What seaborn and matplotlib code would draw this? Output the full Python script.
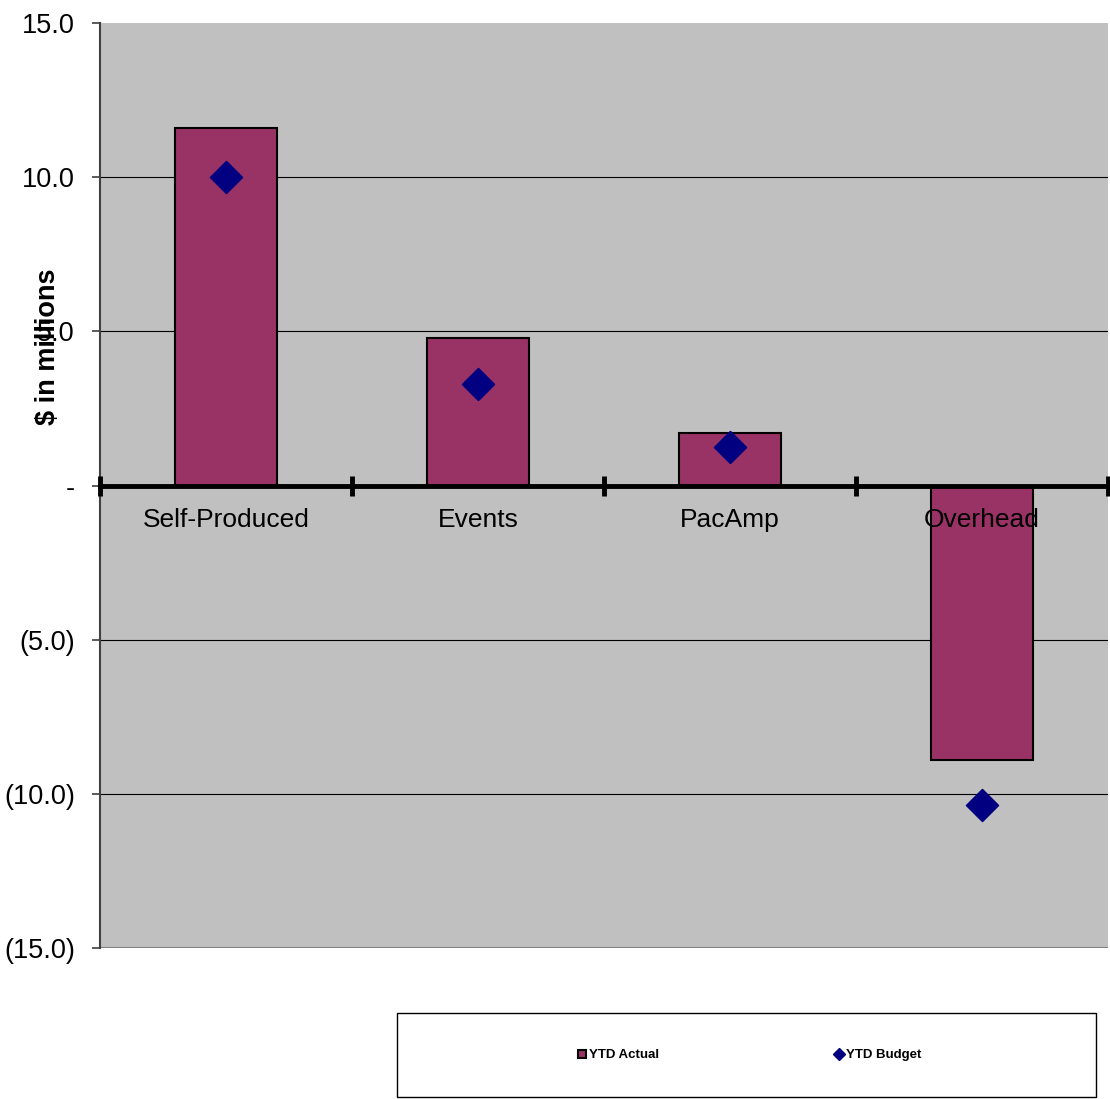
import matplotlib
matplotlib.use("Agg")
import matplotlib.pyplot as plt
from matplotlib.lines import Line2D
from matplotlib.patches import Rectangle
import seaborn as sns
import pandas as pd

# Year-to-date results by business line, $ millions
categories = ["Self-Produced", "Events", "PacAmp", "Overhead"]
ytd_actual = [11.6, 4.8, 1.7, -8.9]
ytd_budget = [10.0, 3.3, 1.25, -10.35]
y_ticks = [15, 10, 5, 0, -5, -10, -15]
y_tick_labels = ["15.0", "10.0", "5.0", "-", "(5.0)", "(10.0)", "(15.0)"]

sns.set_style("white")
plt.rcParams["font.family"] = ["Liberation Sans", "DejaVu Sans"]
plt.rcParams["text.color"] = "black"
plt.rcParams["axes.labelcolor"] = "black"
plt.rcParams["xtick.color"] = "black"
plt.rcParams["ytick.color"] = "black"

df = pd.DataFrame({"cat": categories, "actual": ytd_actual, "budget": ytd_budget})

fig = plt.figure(figsize=(11.10, 10.99), dpi=100)
ax = fig.add_axes([100 / 1110, 1 - 948 / 1099, 1008 / 1110, 925 / 1099])
ax.set_facecolor("#C0C0C0")

bar_color = "#993366"
sns.barplot(data=df, x="cat", y="actual", color=bar_color, width=0.405,
            edgecolor="black", linewidth=1.5, saturation=1, ax=ax, zorder=2)
sns.scatterplot(data=df, x="cat", y="budget", marker="D", s=260,
                color="#000080", edgecolor="#000080", ax=ax, zorder=3)

ax.set_xlim(-0.5, 3.5)
ax.set_ylim(-15, 15)

# Horizontal gridlines
for yv in [10, 5, -5, -10]:
    ax.axhline(yv, color="black", linewidth=0.8, zorder=1)
ax.axhline(-15, color="#808080", linewidth=1.5, zorder=1)

# Category axis sits on the zero line, drawn over the bars
for s in ["top", "right"]:
    ax.spines[s].set_visible(False)
ax.spines["bottom"].set_position(("data", 0))
ax.spines["bottom"].set_linewidth(3.5)
ax.spines["bottom"].set_color("black")
ax.spines["bottom"].set_zorder(6)
ax.spines["left"].set_color("#404040")
ax.spines["left"].set_linewidth(1.5)
ax.xaxis.set_zorder(7)

ax.set_xticks([-0.5, 0.5, 1.5, 2.5, 3.5])
ax.set_xticklabels([])
ax.tick_params(axis="x", which="major", bottom=True, direction="inout",
               length=14, width=3.5, color="black")
ax.set_xticks(range(len(categories)), minor=True)
ax.set_xticklabels(categories, minor=True, fontsize=19)
ax.tick_params(axis="x", which="minor", bottom=True, length=0, pad=16)

ax.set_yticks(y_ticks)
ax.set_yticklabels(y_tick_labels, fontsize=19.5)
ax.tick_params(axis="y", left=True, direction="out", length=6, width=1.2,
               color="#404040", pad=12)

ax.set_xlabel("")
ax.set_ylabel("$ in millions", fontsize=19.5, fontweight="bold")
ax.yaxis.set_label_coords(-0.039, 0.65)

# Legend box below the plot
fig.patches.append(Rectangle((397 / 1110, 1 - 1097 / 1099), 699 / 1110, 84 / 1099,
                             transform=fig.transFigure, facecolor="white",
                             edgecolor="black", linewidth=1.0))
handles = [
    Line2D([], [], linestyle="none", marker="s", markersize=6,
           markerfacecolor=bar_color, markeredgecolor="black", markeredgewidth=1.5),
    Line2D([], [], linestyle="none", marker="D", markersize=6,
           markerfacecolor="#000080", markeredgecolor="#000080"),
]
fig.legend(handles, ["YTD Actual", "YTD Budget"], loc="center",
           bbox_to_anchor=(750 / 1110, 1 - 1055 / 1099), ncol=2, frameon=False,
           handlelength=0.5, handletextpad=0.25, columnspacing=13.4,
           prop={"size": 9.5, "weight": "bold"})

fig.savefig("out.png", dpi=100)
